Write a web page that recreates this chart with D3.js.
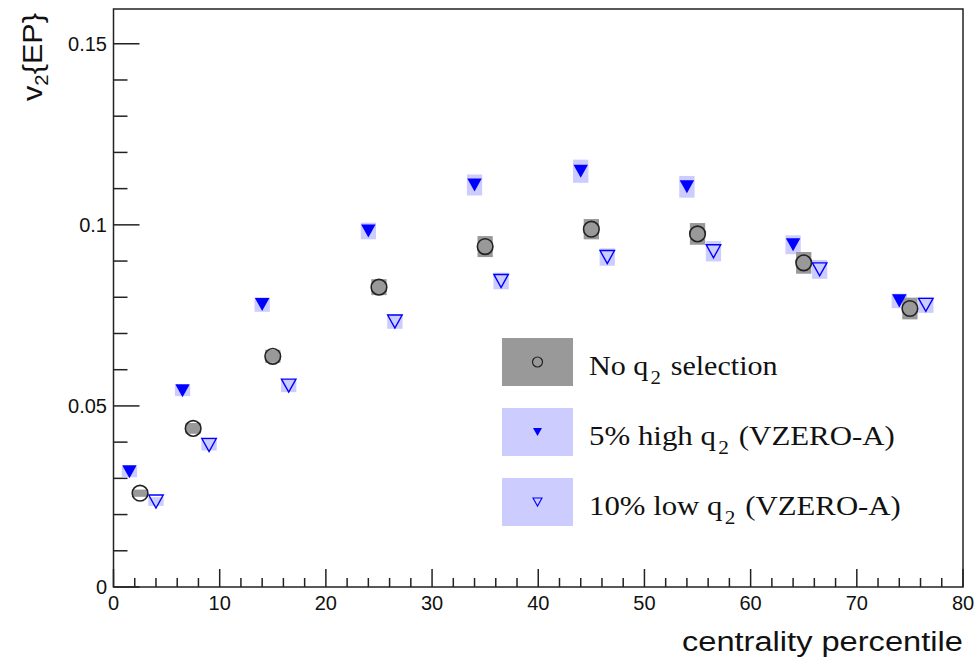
<!DOCTYPE html>
<html>
<head>
<meta charset="utf-8">
<script src="https://cdn.jsdelivr.net/npm/d3@7"></script>
<style>
  body { margin: 0; background: #fff; }
  svg { display: block; }
</style>
</head>
<body>
<svg id="chart" width="976" height="662"></svg>
<script>
// ---- data ----
const noSelX    = [2.5, 7.5, 15, 25, 35, 45, 55, 65, 75];
const noSelY    = [0.0259, 0.0438, 0.0637, 0.0828, 0.0940, 0.0988, 0.0975, 0.0895, 0.0769];
const noSelSys  = [0.0010, 0.0015, 0.0018, 0.0022, 0.0029, 0.0028, 0.0030, 0.0030, 0.0030];

const highX     = [1.5, 6.5, 14, 24, 34, 44, 54, 64, 74];
const highY     = [0.0318, 0.0542, 0.0780, 0.0983, 0.1110, 0.1148, 0.1105, 0.0945, 0.0790];
const highSys   = [0.0015, 0.0015, 0.0020, 0.0023, 0.0029, 0.0032, 0.0030, 0.0026, 0.0020];

const lowX      = [4, 9, 16.5, 26.5, 36.5, 46.5, 56.5, 66.5, 76.5];
const lowY      = [0.0236, 0.0392, 0.0556, 0.0733, 0.0845, 0.0911, 0.0927, 0.0877, 0.0779];
const lowSys    = [0.0012, 0.0015, 0.0018, 0.0020, 0.0023, 0.0024, 0.0028, 0.0026, 0.0022];

const boxHalfW  = 0.72; // half width of systematic box in centrality units

const xTicks    = [0, 10, 20, 30, 40, 50, 60, 70, 80];
const yTicks    = [0, 0.05, 0.1, 0.15];
const yTickLabels = ["0", "0.05", "0.1", "0.15"];

const legendLabels = [
  ["No q", "2", " selection"],
  ["5% high q", "2", " (VZERO-A)"],
  ["10% low q", "2", " (VZERO-A)"]
];

// ---- layout ----
const svg = d3.select("#chart");
const L = 113.5, R = 963, T = 9, B = 587;
const x = d3.scaleLinear().domain([0, 80]).range([L, R]);
const y = d3.scaleLinear().domain([0, 0.1596]).range([B, T]);

const axisColor = "#222";
const sans = "'Liberation Sans', Arial, Helvetica, sans-serif";
const serif = "'Liberation Serif', 'Times New Roman', serif";

// frame
svg.append("rect")
  .attr("x", L).attr("y", T).attr("width", R - L).attr("height", B - T)
  .attr("fill", "none").attr("stroke", axisColor).attr("stroke-width", 1.5);

// x axis ticks
const xMinor = d3.range(0, 80.001, 2);
svg.append("g").selectAll("line").data(xMinor).join("line")
  .attr("x1", d => x(d)).attr("x2", d => x(d))
  .attr("y1", B).attr("y2", d => (d % 10 === 0) ? B - 18 : B - 9)
  .attr("stroke", axisColor).attr("stroke-width", 1.5);
svg.append("g").selectAll("text").data(xTicks).join("text")
  .attr("x", d => x(d)).attr("y", 610)
  .attr("text-anchor", "middle")
  .attr("font-family", sans).attr("font-size", 20).attr("fill", "#111")
  .text(d => d);

// y axis ticks
const yMinor = d3.range(0, 0.1596, 0.01).map(v => +v.toFixed(3));
svg.append("g").selectAll("line").data(yMinor).join("line")
  .attr("x1", L).attr("x2", d => (Math.round(d * 1000) % 50 === 0) ? L + 26 : L + 14)
  .attr("y1", d => y(d)).attr("y2", d => y(d))
  .attr("stroke", axisColor).attr("stroke-width", 1.5);
svg.append("g").selectAll("text").data(yTicks).join("text")
  .attr("x", 107).attr("y", d => y(d) + 7)
  .attr("text-anchor", "end")
  .attr("font-family", sans).attr("font-size", 20).attr("fill", "#111")
  .text((d, i) => yTickLabels[i]);

// axis titles
{
  const g = svg.append("g");
  const t = g.append("text")
    .attr("x", 0).attr("y", 0)
    .attr("font-family", sans).attr("font-size", 27).attr("fill", "#111")
    .text("centrality percentile");
  const w = t.node().getComputedTextLength();
  const s = 281 / w;
  g.attr("transform", `translate(${963 - 281},651) scale(${s},1)`);
}
{
  const g = svg.append("g");
  const yt = g.append("text")
    .attr("x", 0).attr("y", 0)
    .attr("font-family", sans).attr("font-size", 27).attr("fill", "#111");
  yt.append("tspan").text("v");
  yt.append("tspan").attr("font-size", 18).attr("dy", 6).text("2");
  yt.append("tspan").attr("dy", -6).text("{EP}");
  const w = yt.node().getComputedTextLength();
  const s = 88 / w;
  g.attr("transform", `translate(42,101) rotate(-90) scale(${s},1)`);
}

// ---- markers ----
const gray = "#999999", lightBlue = "#ccccff", blue = "#0000ff";

function triDown(cx, cy, s) {
  const h = s * 0.9;
  return `M${cx - s / 2},${cy - h / 2} L${cx + s / 2},${cy - h / 2} L${cx},${cy + h / 2} Z`;
}

function drawBoxes(xs, ys, sys, color) {
  svg.append("g").selectAll("rect").data(xs).join("rect")
    .attr("x", d => x(d - boxHalfW))
    .attr("width", d => x(d + boxHalfW) - x(d - boxHalfW))
    .attr("y", (d, i) => y(ys[i] + sys[i]))
    .attr("height", (d, i) => y(ys[i] - sys[i]) - y(ys[i] + sys[i]))
    .attr("fill", color);
}

drawBoxes(highX, highY, highSys, lightBlue);
drawBoxes(lowX, lowY, lowSys, lightBlue);
drawBoxes(noSelX, noSelY, noSelSys, gray);

// filled triangles
svg.append("g").selectAll("path").data(highX).join("path")
  .attr("d", (d, i) => triDown(x(d), y(highY[i]), 14.5))
  .attr("fill", blue);

// open triangles
svg.append("g").selectAll("path").data(lowX).join("path")
  .attr("d", (d, i) => triDown(x(d), y(lowY[i]), 14.5))
  .attr("fill", "none").attr("stroke", blue).attr("stroke-width", 1.4);

// open circles
svg.append("g").selectAll("circle").data(noSelX).join("circle")
  .attr("cx", d => x(d)).attr("cy", (d, i) => y(noSelY[i]))
  .attr("r", 7.8)
  .attr("fill", "none").attr("stroke", "#222").attr("stroke-width", 1.6);

// ---- legend ----
const legTop = [338, 408, 478];
const legColors = [gray, lightBlue, lightBlue];
const legEnd = [778, 895, 901];
const lg = svg.append("g");
legTop.forEach((t, i) => {
  lg.append("rect").attr("x", 502).attr("y", t).attr("width", 71).attr("height", 48)
    .attr("fill", legColors[i]);
  const cx = 537.5, cy = t + 24;
  if (i === 0) {
    lg.append("circle").attr("cx", cx).attr("cy", cy).attr("r", 5)
      .attr("fill", "none").attr("stroke", "#222").attr("stroke-width", 1.2);
  } else if (i === 1) {
    lg.append("path").attr("d", triDown(cx, cy, 9)).attr("fill", blue);
  } else {
    lg.append("path").attr("d", triDown(cx, cy, 9)).attr("fill", "none")
      .attr("stroke", blue).attr("stroke-width", 1.1);
  }
  const tg = lg.append("g");
  const tx = tg.append("text").attr("x", 0).attr("y", 0)
    .attr("font-family", serif).attr("font-size", 27.5).attr("fill", "#111");
  tx.append("tspan").text(legendLabels[i][0]);
  tx.append("tspan").attr("font-size", 19).attr("dy", 9).attr("dx", 2).text(legendLabels[i][1]);
  tx.append("tspan").attr("dy", -9).attr("dx", 2).text(legendLabels[i][2]);
  const w = tx.node().getBBox().width;
  const s = (legEnd[i] - 589) / w;
  tg.attr("transform", `translate(589,${t + 37}) scale(${s},1)`);
});
</script>
</body>
</html>
